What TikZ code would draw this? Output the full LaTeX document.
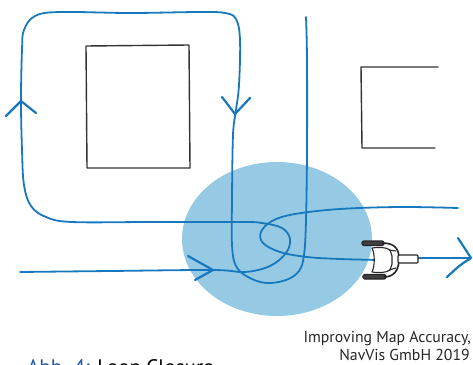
\documentclass[tikz,border=0pt]{standalone}
\usepackage{fontspec}
\setmainfont{PT Sans}
\definecolor{trackblue}{RGB}{24,120,190}
\definecolor{zoneblue}{RGB}{150,202,228}
\definecolor{capblue}{RGB}{30,85,160}
\begin{document}
\begin{tikzpicture}[x=1pt,y=-1pt,
  track/.style={draw=trackblue,line width=1.8pt,line cap=round,line join=round},
  chevron/.style={draw=trackblue,line width=2.2pt,line cap=round,line join=round},
  wall/.style={draw=black!80,line width=1.4pt,line cap=round,line join=round},
  chair/.style={draw=black!85,line width=1.1pt,line join=round},
  credit/.style={anchor=base east, font=\fontsize{15.8}{19}\selectfont, text=black!85, inner sep=0}]
\useasboundingbox (0,0) rectangle (473,364);
\clip (0,0) rectangle (473,364);

% loop-closure zone
\fill[zoneblue] (277,239) ellipse [x radius=95, y radius=77];

% walls
\draw[wall] (86,46) -- (189,45) -- (190,168) -- (87,168) -- cycle;
\draw[wall] (438,67) -- (361,67) -- (362,148) -- (435,148);

% first pass: in from the left, around the block, down and back up
\draw[track] plot[smooth, tension=0.6] coordinates {(20,272) (110,271) (213,270) (245,272) (270,266) (286,253) (290,239) (282,228) (262,223) (240,222) (150,222) (72,222) (46,217) (31,206) (24,185) (22,150) (21,100) (22,50) (24,30) (35,16) (60,12) (130,13) (200,12) (225,13) (236,19) (240,40) (239,85) (236,110) (233,135) (232,200) (232,245) (236,266) (248,277) (266,283) (286,280) (299,271) (304,255) (306,220) (307,150) (307,60) (306,17)};

% second pass: back in from the right, loop, and out to the right
\draw[track] plot[smooth, tension=0.6] coordinates {(458,208) (400,207) (340,209) (295,214) (272,221) (261,232) (263,243) (280,252) (307,257) (340,259) (380,260)};
\coordinate (chairfront) at (405,258);
\coordinate (trackend) at (471,258);
\draw[track] (chairfront) -- (trackend);

% direction marks
\draw[chevron] (6,116) -- (21,101) -- (36,113);
\draw[chevron] (222,97) -- (235,114) -- (250,98);
\draw[chevron] (188,256) -- (213,270) -- (195,280);
\draw[chevron] (458,238) .. controls (464,248) .. (trackend) .. controls (460,265) .. (447,277);

% wheelchair seen from above
\draw[chair, fill=black!75, rounded corners=1.5pt] (362,241) rectangle (384,245.5);
\draw[chair, fill=black!75, rounded corners=1.5pt] (363,274.5) rectangle (386,279);
\draw[chair, line width=1.6pt] (382,243) .. controls (396,243) and (399,250) .. (399,259) .. controls (399,270) and (394,277) .. (384,277);
\draw[chair, fill=white, rounded corners=1pt] (398,255) rectangle (418,263);
\draw[chair, fill=white] (372,248) .. controls (378,247) and (386,247) .. (390,250) -- (392,256) -- (392,264) -- (390,270) .. controls (386,273) and (378,273) .. (372,272) .. controls (375,266) and (375,254) .. (372,248) -- cycle;
\draw[chair] (389,250) -- (396,251);
\draw[chair] (389,270) -- (396,268);

% labels
\node[credit] (credit1) at (471,342) {Improving Map Accuracy,};
\node[credit] (credit2) at (470,360) {NavVis GmbH 2019};
\node[anchor=base west, font=\fontsize{21}{24}\selectfont, inner sep=0] (caption) at (27,374) {\textcolor{capblue}{Abb. 4:} Loop Closure};
\end{tikzpicture}
\end{document}
